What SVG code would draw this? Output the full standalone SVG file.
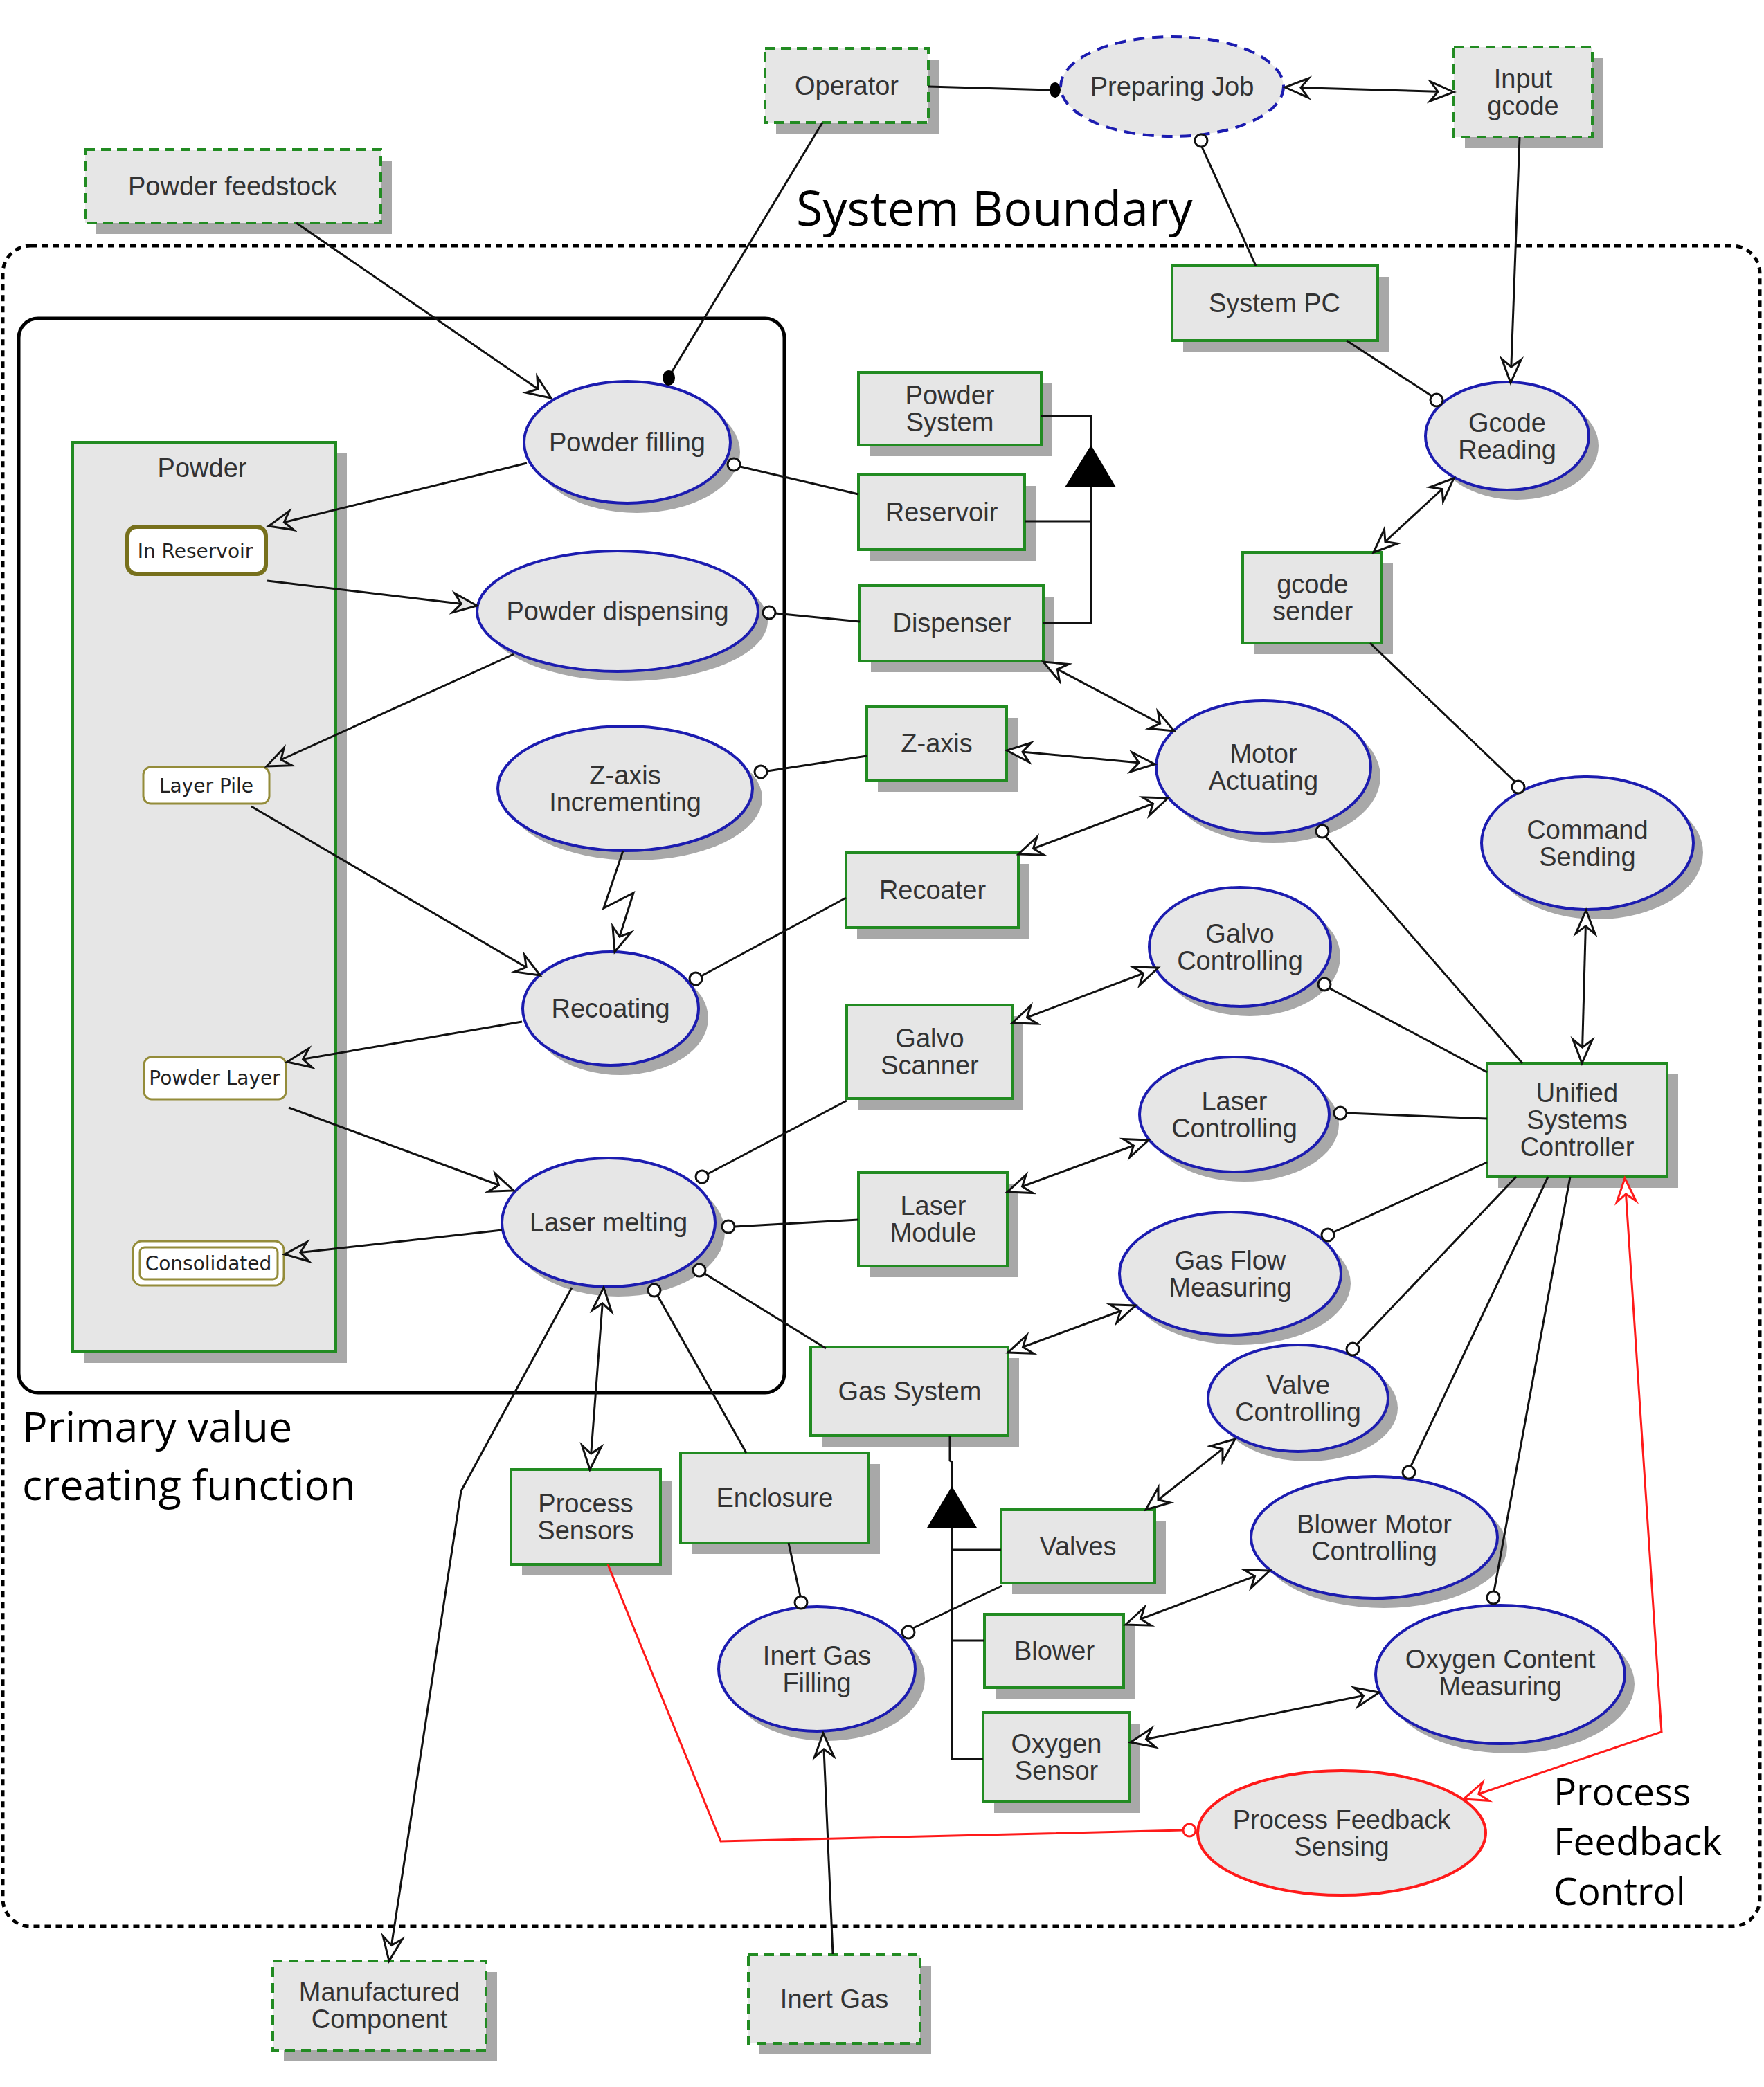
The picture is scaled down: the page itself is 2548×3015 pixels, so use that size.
<svg xmlns="http://www.w3.org/2000/svg" width="2548" height="3015" viewBox="0 0 2548 3015">
<style>
.box{fill:#e6e6e6;stroke:#228b22;stroke-width:4}
.ext{fill:#e6e6e6;stroke:#228b22;stroke-width:4;stroke-dasharray:14 9}
.sh{fill:#a8a8a8}
.uc{fill:#e6e6e6;stroke:#1c1cb0;stroke-width:4}
.t{font-family:"Liberation Sans",Arial,sans-serif;font-size:38px;fill:#333;text-anchor:middle}
.st{font-family:"DejaVu Sans",sans-serif;font-size:28px;fill:#222;text-anchor:middle}
.c{stroke:#111;stroke-width:3;fill:none}
.red{stroke:#ff1a1a;stroke-width:3;fill:none}
.oc{fill:#fff;stroke:#111;stroke-width:3}
.big{font-family:"Open Sans","Noto Sans",sans-serif;fill:#000}
.a{marker-end:url(#ah)}
.a2{marker-start:url(#ah);marker-end:url(#ah)}
.ag{marker-end:url(#ahg)}
</style>
<defs>
<marker id="ah" viewBox="-40 -18 44 36" refX="0" refY="0" markerWidth="44" markerHeight="36" markerUnits="userSpaceOnUse" orient="auto-start-reverse" style="overflow:visible"><path d="M0,0 L-34,-14 L-23,0 L-34,14 Z" fill="#fff" stroke="#111" stroke-width="3"/></marker>
<marker id="ahg" viewBox="-40 -18 44 36" refX="0" refY="0" markerWidth="44" markerHeight="36" markerUnits="userSpaceOnUse" orient="auto-start-reverse" style="overflow:visible"><path d="M0,0 L-34,-14 L-23,0 L-34,14 Z" fill="#e6e6e6" stroke="#111" stroke-width="3"/></marker>
<marker id="ahr" viewBox="-40 -18 44 36" refX="0" refY="0" markerWidth="44" markerHeight="36" markerUnits="userSpaceOnUse" orient="auto-start-reverse" style="overflow:visible"><path d="M0,0 L-34,-14 L-23,0 L-34,14 Z" fill="#fff" stroke="#ff1a1a" stroke-width="3"/></marker>
</defs>
<rect width="2548" height="3015" fill="#fff"/>

<g id="containers">
<rect x="4" y="355" width="2538" height="2428" rx="40" fill="none" stroke="#000" stroke-width="5" stroke-dasharray="9 7"/>
<text class="big" x="1150" y="326" font-size="70">System Boundary</text>
<rect x="27" y="460" width="1106" height="1552" rx="28" fill="none" stroke="#000" stroke-width="5"/>
<text class="big" x="32" y="2083" font-size="61">Primary value</text>
<text class="big" x="32" y="2167" font-size="61">creating function</text>
<text class="big" x="2244" y="2608" font-size="55">Process</text>
<text class="big" x="2244" y="2680" font-size="55">Feedback</text>
<text class="big" x="2244" y="2752" font-size="55">Control</text>
</g>

<g id="powder">
<rect class="sh" x="121" y="655" width="380" height="1314"/>
<rect class="box" x="105" y="639" width="380" height="1314"/>
<text class="t" x="292" y="689">Powder</text>
</g>
<g id="in-reservoir">
<rect x="184" y="761" width="200" height="68" rx="13" fill="#fff" stroke="#77701c" stroke-width="6"/>
<text class="st" x="282" y="806">In Reservoir</text>
</g>
<g id="layer-pile">
<rect x="207" y="1108" width="182" height="53" rx="11" fill="#fff" stroke="#948c3a" stroke-width="3"/>
<text class="st" x="298" y="1145">Layer Pile</text>
</g>
<g id="powder-layer">
<rect x="208" y="1527" width="205" height="61" rx="11" fill="#fff" stroke="#948c3a" stroke-width="3"/>
<text class="st" x="310" y="1567">Powder Layer</text>
</g>
<g id="consolidated">
<rect x="192" y="1793" width="218" height="64" rx="13" fill="#fff" stroke="#948c3a" stroke-width="3"/>
<rect x="202" y="1802" width="199" height="46" rx="7" fill="none" stroke="#948c3a" stroke-width="3"/>
<text class="st" x="301" y="1835">Consolidated</text>
</g>

<!-- external dashed -->
<g id="operator"><rect class="sh" x="1121" y="86" width="236" height="107"/><rect class="ext" x="1105" y="70" width="236" height="107"/><text class="t" x="1223" y="137">Operator</text></g>
<g id="input-gcode"><rect class="sh" x="2116" y="84" width="200" height="130"/><rect class="ext" x="2100" y="68" width="200" height="130"/><text class="t" x="2200" y="127">Input</text><text class="t" x="2200" y="166">gcode</text></g>
<g id="powder-feedstock"><rect class="sh" x="139" y="232" width="427" height="106"/><rect class="ext" x="123" y="216" width="427" height="106"/><text class="t" x="336" y="282">Powder feedstock</text></g>
<g id="manufactured-component"><rect class="sh" x="410" y="2849" width="308" height="129"/><rect class="ext" x="394" y="2833" width="308" height="129"/><text class="t" x="548" y="2891">Manufactured</text><text class="t" x="548" y="2930">Component</text></g>
<g id="inert-gas"><rect class="sh" x="1097" y="2840" width="248" height="128"/><rect class="ext" x="1081" y="2824" width="248" height="128"/><text class="t" x="1205" y="2901">Inert Gas</text></g>
<g id="preparing-job"><ellipse cx="1693" cy="125" rx="161" ry="72" fill="#e6e6e6" stroke="#1c1cb0" stroke-width="4" stroke-dasharray="16 11"/><text class="t" x="1693" y="138">Preparing Job</text></g>

<!-- boxes -->
<g id="system-pc"><rect class="sh" x="1709" y="400" width="297" height="108"/><rect class="box" x="1693" y="384" width="297" height="108"/><text class="t" x="1841" y="451">System PC</text></g>
<g id="powder-system"><rect class="sh" x="1256" y="554" width="264" height="105"/><rect class="box" x="1240" y="538" width="264" height="105"/><text class="t" x="1372" y="584">Powder</text><text class="t" x="1372" y="623">System</text></g>
<g id="reservoir"><rect class="sh" x="1256" y="702" width="240" height="108"/><rect class="box" x="1240" y="686" width="240" height="108"/><text class="t" x="1360" y="753">Reservoir</text></g>
<g id="dispenser"><rect class="sh" x="1258" y="862" width="265" height="109"/><rect class="box" x="1242" y="846" width="265" height="109"/><text class="t" x="1375" y="913">Dispenser</text></g>
<g id="gcode-sender"><rect class="sh" x="1811" y="814" width="201" height="131"/><rect class="box" x="1795" y="798" width="201" height="131"/><text class="t" x="1896" y="857">gcode</text><text class="t" x="1896" y="896">sender</text></g>
<g id="z-axis"><rect class="sh" x="1268" y="1037" width="202" height="107"/><rect class="box" x="1252" y="1021" width="202" height="107"/><text class="t" x="1353" y="1087">Z-axis</text></g>
<g id="recoater"><rect class="sh" x="1238" y="1248" width="249" height="108"/><rect class="box" x="1222" y="1232" width="249" height="108"/><text class="t" x="1347" y="1299">Recoater</text></g>
<g id="galvo-scanner"><rect class="sh" x="1239" y="1468" width="239" height="135"/><rect class="box" x="1223" y="1452" width="239" height="135"/><text class="t" x="1343" y="1513">Galvo</text><text class="t" x="1343" y="1552">Scanner</text></g>
<g id="laser-module"><rect class="sh" x="1256" y="1710" width="215" height="135"/><rect class="box" x="1240" y="1694" width="215" height="135"/><text class="t" x="1348" y="1755">Laser</text><text class="t" x="1348" y="1794">Module</text></g>
<g id="unified-systems-controller"><rect class="sh" x="2164" y="1552" width="260" height="164"/><rect class="box" x="2148" y="1536" width="260" height="164"/><text class="t" x="2278" y="1592">Unified</text><text class="t" x="2278" y="1631">Systems</text><text class="t" x="2278" y="1670">Controller</text></g>
<g id="gas-system"><rect class="sh" x="1187" y="1962" width="285" height="128"/><rect class="box" x="1171" y="1946" width="285" height="128"/><text class="t" x="1314" y="2023">Gas System</text></g>
<g id="process-sensors"><rect class="sh" x="754" y="2139" width="216" height="137"/><rect class="box" x="738" y="2123" width="216" height="137"/><text class="t" x="846" y="2185">Process</text><text class="t" x="846" y="2224">Sensors</text></g>
<g id="enclosure"><rect class="sh" x="999" y="2115" width="272" height="130"/><rect class="box" x="983" y="2099" width="272" height="130"/><text class="t" x="1119" y="2177">Enclosure</text></g>
<g id="valves"><rect class="sh" x="1462" y="2197" width="222" height="106"/><rect class="box" x="1446" y="2181" width="222" height="106"/><text class="t" x="1557" y="2247">Valves</text></g>
<g id="blower"><rect class="sh" x="1438" y="2348" width="201" height="106"/><rect class="box" x="1422" y="2332" width="201" height="106"/><text class="t" x="1523" y="2398">Blower</text></g>
<g id="oxygen-sensor"><rect class="sh" x="1436" y="2490" width="211" height="129"/><rect class="box" x="1420" y="2474" width="211" height="129"/><text class="t" x="1526" y="2532">Oxygen</text><text class="t" x="1526" y="2571">Sensor</text></g>

<!-- use cases -->
<g id="powder-filling"><ellipse class="sh" cx="920" cy="653" rx="149" ry="88"/><ellipse class="uc" cx="906" cy="639" rx="149" ry="88"/><text class="t" x="906" y="652">Powder filling</text></g>
<g id="powder-dispensing"><ellipse class="sh" cx="906" cy="897" rx="203" ry="87"/><ellipse class="uc" cx="892" cy="883" rx="203" ry="87"/><text class="t" x="892" y="896">Powder dispensing</text></g>
<g id="z-axis-incrementing"><ellipse class="sh" cx="917" cy="1153" rx="184" ry="90"/><ellipse class="uc" cx="903" cy="1139" rx="184" ry="90"/><text class="t" x="903" y="1133">Z-axis</text><text class="t" x="903" y="1172">Incrementing</text></g>
<g id="recoating"><ellipse class="sh" cx="896" cy="1471" rx="127" ry="82"/><ellipse class="uc" cx="882" cy="1457" rx="127" ry="82"/><text class="t" x="882" y="1470">Recoating</text></g>
<g id="laser-melting"><ellipse class="sh" cx="893" cy="1780" rx="154" ry="93"/><ellipse class="uc" cx="879" cy="1766" rx="154" ry="93"/><text class="t" x="879" y="1779">Laser melting</text></g>
<g id="gcode-reading"><ellipse class="sh" cx="2191" cy="644" rx="118" ry="78"/><ellipse class="uc" cx="2177" cy="630" rx="118" ry="78"/><text class="t" x="2177" y="624">Gcode</text><text class="t" x="2177" y="663">Reading</text></g>
<g id="motor-actuating"><ellipse class="sh" cx="1839" cy="1122" rx="155" ry="96"/><ellipse class="uc" cx="1825" cy="1108" rx="155" ry="96"/><text class="t" x="1825" y="1102">Motor</text><text class="t" x="1825" y="1141">Actuating</text></g>
<g id="command-sending"><ellipse class="sh" cx="2307" cy="1232" rx="153" ry="96"/><ellipse class="uc" cx="2293" cy="1218" rx="153" ry="96"/><text class="t" x="2293" y="1212">Command</text><text class="t" x="2293" y="1251">Sending</text></g>
<g id="galvo-controlling"><ellipse class="sh" cx="1805" cy="1382" rx="131" ry="86"/><ellipse class="uc" cx="1791" cy="1368" rx="131" ry="86"/><text class="t" x="1791" y="1362">Galvo</text><text class="t" x="1791" y="1401">Controlling</text></g>
<g id="laser-controlling"><ellipse class="sh" cx="1797" cy="1624" rx="137" ry="83"/><ellipse class="uc" cx="1783" cy="1610" rx="137" ry="83"/><text class="t" x="1783" y="1604">Laser</text><text class="t" x="1783" y="1643">Controlling</text></g>
<g id="gas-flow-measuring"><ellipse class="sh" cx="1791" cy="1854" rx="160" ry="89"/><ellipse class="uc" cx="1777" cy="1840" rx="160" ry="89"/><text class="t" x="1777" y="1834">Gas Flow</text><text class="t" x="1777" y="1873">Measuring</text></g>
<g id="valve-controlling"><ellipse class="sh" cx="1889" cy="2034" rx="130" ry="77"/><ellipse class="uc" cx="1875" cy="2020" rx="130" ry="77"/><text class="t" x="1875" y="2014">Valve</text><text class="t" x="1875" y="2053">Controlling</text></g>
<g id="blower-motor-controlling"><ellipse class="sh" cx="1999" cy="2235" rx="178" ry="88"/><ellipse class="uc" cx="1985" cy="2221" rx="178" ry="88"/><text class="t" x="1985" y="2215">Blower Motor</text><text class="t" x="1985" y="2254">Controlling</text></g>
<g id="oxygen-content-measuring"><ellipse class="sh" cx="2181" cy="2433" rx="180" ry="100"/><ellipse class="uc" cx="2167" cy="2419" rx="180" ry="100"/><text class="t" x="2167" y="2410">Oxygen Content</text><text class="t" x="2167" y="2449">Measuring</text></g>
<g id="inert-gas-filling"><ellipse class="sh" cx="1194" cy="2425" rx="142" ry="90"/><ellipse class="uc" cx="1180" cy="2411" rx="142" ry="90"/><text class="t" x="1180" y="2405">Inert Gas</text><text class="t" x="1180" y="2444">Filling</text></g>
<g id="process-feedback-sensing"><ellipse cx="1938" cy="2648" rx="208" ry="90" fill="#e6e6e6" stroke="#ff1a1a" stroke-width="4"/><text class="t" x="1938" y="2642">Process Feedback</text><text class="t" x="1938" y="2681">Sensing</text></g>

<g id="connectors">
<path class="c" d="M1341,125 L1517,130" stroke-width="4"/>
<ellipse cx="1524" cy="130" rx="8" ry="11" fill="#000"/>
<path class="c a2" d="M1856,126 L2100,133"/>
<path class="c" d="M1736,212 L1814,384"/>
<circle class="oc" cx="1735" cy="203" r="9"/>
<path class="c a" d="M2195,198 L2182,553"/>
<path class="c" d="M1945,492 L2068,572"/>
<circle class="oc" cx="2075" cy="578" r="9"/>
<path class="c" d="M1188,177 L970,538"/>
<ellipse cx="966" cy="546" rx="9" ry="11" fill="#000"/>
<path class="c a" d="M428,322 L796,575"/>
<path class="c ag" d="M761,669 L388,760"/>
<path class="c" d="M1069,674 L1240,714"/>
<circle class="oc" cx="1060" cy="671" r="9"/>
<path class="c ag" d="M386,839 L689,875"/>
<path class="c" d="M1120,886 L1242,898"/>
<circle class="oc" cx="1111" cy="885" r="9"/>
<path class="c ag" d="M742,945 L385,1107"/>
<path class="c" d="M1108,1114 L1252,1092"/>
<circle class="oc" cx="1099" cy="1115" r="9"/>
<path class="c a" d="M900,1229 L872,1312 L915,1290 L888,1375"/>
<path class="c a" d="M363,1165 L780,1409"/>
<path class="c" d="M1013,1410 L1222,1297"/>
<circle class="oc" cx="1005" cy="1414" r="9"/>
<path class="c ag" d="M754,1476 L415,1534"/>
<path class="c a" d="M417,1600 L742,1720"/>
<path class="c ag" d="M725,1777 L411,1812"/>
<path class="c" d="M1022,1696 L1223,1590"/>
<circle class="oc" cx="1014" cy="1700" r="9"/>
<path class="c" d="M1061,1772 L1240,1762"/>
<circle class="oc" cx="1052" cy="1772" r="9"/>
<path class="c" d="M1018,1840 L1193,1948"/>
<circle class="oc" cx="1010" cy="1835" r="9"/>
<path class="c" d="M950,1872 L1078,2099"/>
<circle class="oc" cx="945" cy="1864" r="9"/>
<path class="c a" d="M826,1860 L666,2154 L562,2833"/>
<path class="c a2" d="M872,1860 L852,2123"/>
<path class="c" d="M1504,601 L1576,601 L1576,645"/>
<path d="M1576,643 L1538,704 L1612,704 Z" fill="#000"/>
<path class="c" d="M1576,704 L1576,900 L1507,900 M1480,753 L1576,753"/>
<path class="c a2" d="M1507,956 L1696,1056"/>
<path class="c a2" d="M1454,1084 L1668,1104"/>
<path class="c a2" d="M1471,1234 L1687,1153"/>
<path class="c a2" d="M1984,798 L2100,691"/>
<path class="c" d="M1979,929 L2188,1129"/>
<circle class="oc" cx="2193" cy="1137" r="9"/>
<path class="c" d="M1915,1209 L2199,1536"/>
<circle class="oc" cx="1910" cy="1201" r="9"/>
<path class="c a2" d="M2291,1315 L2285,1536"/>
<path class="c a2" d="M1462,1478 L1673,1398"/>
<path class="c" d="M1921,1428 L2148,1549"/>
<circle class="oc" cx="1913" cy="1422" r="9"/>
<path class="c" d="M1945,1608 L2148,1616"/>
<circle class="oc" cx="1936" cy="1608" r="9"/>
<path class="c a2" d="M1455,1722 L1659,1647"/>
<path class="c" d="M1926,1780 L2148,1679"/>
<circle class="oc" cx="1918" cy="1784" r="9"/>
<path class="c a2" d="M1456,1954 L1640,1886"/>
<path class="c" d="M1960,1942 L2190,1700"/>
<circle class="oc" cx="1954" cy="1949" r="9"/>
<path class="c" d="M2038,2118 L2236,1700"/>
<circle class="oc" cx="2035" cy="2127" r="9"/>
<path class="c" d="M2158,2299 L2268,1700"/>
<circle class="oc" cx="2157" cy="2308" r="9"/>
<path class="c" d="M1372,2074 L1372,2110 L1375,2112 L1375,2149"/>
<path d="M1375,2147 L1339,2207 L1411,2207 Z" fill="#000"/>
<path class="c" d="M1375,2207 L1375,2541 L1420,2541 M1375,2239 L1446,2239 M1375,2370 L1422,2370"/>
<path class="c" d="M1139,2229 L1156,2306"/>
<circle class="oc" cx="1157" cy="2315" r="9"/>
<path class="c" d="M1447,2291 L1319,2352"/>
<circle class="oc" cx="1312" cy="2358" r="9"/>
<path class="c a2" d="M1655,2181 L1784,2079"/>
<path class="c a2" d="M1626,2347 L1834,2269"/>
<path class="c a2" d="M1633,2517 L1992,2445"/>
<path class="c a" d="M1203,2823 L1189,2504"/>
<path class="red" d="M2347,1702 L2400,2502 L2114,2599" marker-start="url(#ahr)" marker-end="url(#ahr)"/>
<path class="red" d="M878,2260 L1041,2660 L1709,2644"/>
<circle cx="1718" cy="2644" r="9" fill="#fff" stroke="#ff1a1a" stroke-width="3"/>
</g>
</svg>
